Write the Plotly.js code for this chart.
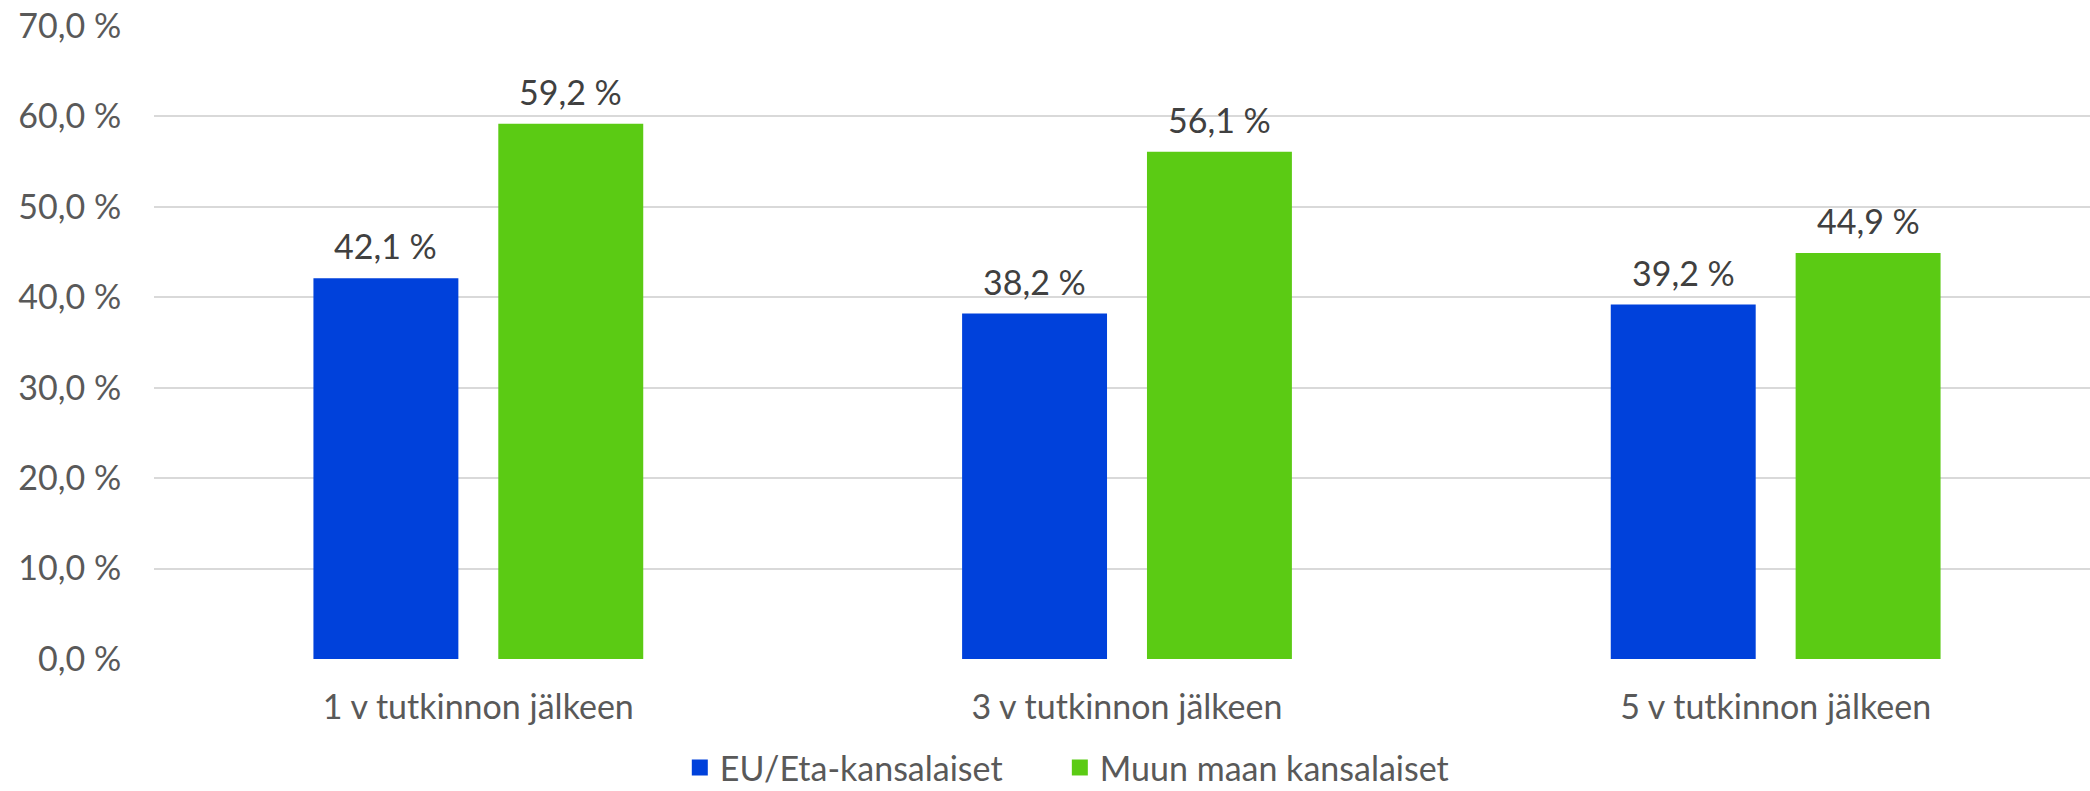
<!DOCTYPE html>
<html>
<head>
<meta charset="utf-8">
<script src="https://cdn.plot.ly/plotly-3.0.1.min.js"></script>
<style>
html,body{margin:0;padding:0;overflow:hidden;background:#fff;}
#chart{width:2100px;height:791px;}
</style>
</head>
<body>
<div id="chart"></div>
<script>
const categories = ["1 v tutkinnon jälkeen", "3 v tutkinnon jälkeen", "5 v tutkinnon jälkeen"];
const seriesNames = ["EU/Eta-kansalaiset", "Muun maan kansalaiset"];
const euValues = [42.1, 38.2, 39.2];
const otherValues = [59.2, 56.1, 44.9];
const yTicks = [0, 10, 20, 30, 40, 50, 60, 70];

const colors = ["#0041DB", "#5BCB14"];
const font = "Lato, 'Open Sans', sans-serif";
const fs = 34;
const legendSpacer = "\u00A0\u00A0\u00A0\u00A0\u00A0\u00A0";

const traces = [
  {type: "bar", name: seriesNames[0], x: categories, y: euValues, marker: {color: colors[0]}, showlegend: false},
  {type: "bar", name: seriesNames[1], x: categories, y: otherValues, marker: {color: colors[1]}, showlegend: false},
  {type: "scatter", mode: "markers", name: seriesNames[0] + legendSpacer, x: [null], y: [null],
   marker: {symbol: "square", size: 16, color: colors[0]}, showlegend: true},
  {type: "scatter", mode: "markers", name: seriesNames[1], x: [null], y: [null],
   marker: {symbol: "square", size: 16, color: colors[1]}, showlegend: true}
];

function fmt(v) { return v.toFixed(1).replace(".", ",") + " %"; }

const annotations = [];
[euValues, otherValues].forEach(function(vals, si) {
  vals.forEach(function(v, i) {
    annotations.push({
      x: categories[i], y: v, xref: "x", yref: "y",
      text: fmt(v), showarrow: false, yanchor: "bottom",
      xshift: si === 0 ? -92.5 : 92.5, yshift: 10,
      font: {family: font, size: fs, color: "#404040"}
    });
  });
});

const layout = {
  width: 2100, height: 791,
  margin: {l: 154, r: 0, t: 25.5, b: 132, autoexpand: false},
  paper_bgcolor: "#fff", plot_bgcolor: "#fff",
  separators: ", ",
  barmode: "group",
  bargap: 0.43,
  bargroupgap: 0.216,
  showlegend: true,
  font: {family: font, size: fs, color: "#595959"},
  xaxis: {
    type: "category", tickangle: 0, automargin: false,
    showgrid: false, zeroline: false, showline: false,
    ticks: "outside", ticklen: 18, tickcolor: "rgba(0,0,0,0)",
    tickfont: {family: font, size: fs, color: "#595959"}
  },
  yaxis: {
    range: [0, 70], tickvals: yTicks, automargin: false,
    ticktext: yTicks.map(function(t){ return t.toFixed(1).replace(".", ",") + " %"; }),
    showgrid: true, gridcolor: "#D9D9D9", gridwidth: 2,
    zeroline: false, showline: false,
    ticks: "outside", ticklen: 25, tickcolor: "rgba(0,0,0,0)",
    tickfont: {family: font, size: fs, color: "#595959"}
  },
  legend: {
    orientation: "h", xref: "container", yref: "paper",
    x: 0.508, xanchor: "center", y: -0.172, yanchor: "middle",
    font: {family: font, size: fs, color: "#595959"},
    itemwidth: 30, traceorder: "normal", itemclick: false
  },
  annotations: annotations
};

Plotly.newPlot("chart", traces, layout, {displayModeBar: false, staticPlot: true});
</script>
</body>
</html>
